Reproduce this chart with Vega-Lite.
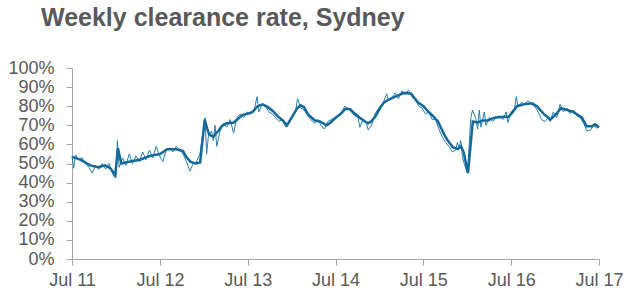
{
  "$schema": "https://vega.github.io/schema/vega-lite/v6.json",
  "autosize": "none",
  "width": 527,
  "height": 191,
  "padding": {"left": 72, "top": 68, "right": 33, "bottom": 42},
  "background": "white",
  "title": {
    "text": "Weekly clearance rate, Sydney",
    "anchor": "start",
    "frame": "group",
    "dx": -31,
    "offset": 8,
    "baseline": "alphabetic",
    "font": "Liberation Sans",
    "fontSize": 25,
    "fontWeight": "bold",
    "color": "#595959"
  },
  "config": {
    "view": {"stroke": null},
    "axis": {
      "labelFont": "Liberation Sans",
      "labelFontSize": 18,
      "labelColor": "#595959",
      "domainColor": "#A6A6A6",
      "tickColor": "#A6A6A6",
      "grid": false,
      "title": null,
      "tickSize": 6
    }
  },
  "datasets": {
    "weekly": [
      {"date": "2011-07-01", "v": 54}, {"date": "2011-07-08", "v": 47.5}, {"date": "2011-07-15", "v": 54.5}, {"date": "2011-07-29", "v": 52},
      {"date": "2011-08-12", "v": 53}, {"date": "2011-08-26", "v": 50}, {"date": "2011-09-09", "v": 48}, {"date": "2011-09-23", "v": 45},
      {"date": "2011-10-07", "v": 49}, {"date": "2011-10-21", "v": 47}, {"date": "2011-11-04", "v": 50}, {"date": "2011-11-18", "v": 47},
      {"date": "2011-12-02", "v": 50}, {"date": "2011-12-16", "v": 45}, {"date": "2011-12-23", "v": 43}, {"date": "2011-12-30", "v": 42.5},
      {"date": "2012-01-06", "v": 62}, {"date": "2012-01-13", "v": 48}, {"date": "2012-01-27", "v": 53}, {"date": "2012-02-10", "v": 49},
      {"date": "2012-02-24", "v": 55}, {"date": "2012-03-09", "v": 50}, {"date": "2012-03-23", "v": 54}, {"date": "2012-04-06", "v": 51},
      {"date": "2012-04-20", "v": 56}, {"date": "2012-05-04", "v": 52}, {"date": "2012-05-18", "v": 57}, {"date": "2012-06-01", "v": 53},
      {"date": "2012-06-15", "v": 59}, {"date": "2012-06-29", "v": 54}, {"date": "2012-07-13", "v": 51}, {"date": "2012-07-27", "v": 57},
      {"date": "2012-08-10", "v": 58}, {"date": "2012-08-24", "v": 56}, {"date": "2012-09-07", "v": 59}, {"date": "2012-09-21", "v": 57},
      {"date": "2012-10-05", "v": 55}, {"date": "2012-10-19", "v": 51}, {"date": "2012-11-02", "v": 46}, {"date": "2012-11-16", "v": 50},
      {"date": "2012-11-30", "v": 51}, {"date": "2012-12-14", "v": 55}, {"date": "2013-01-04", "v": 74}, {"date": "2013-01-11", "v": 55},
      {"date": "2013-01-18", "v": 64}, {"date": "2013-02-01", "v": 67}, {"date": "2013-02-08", "v": 62}, {"date": "2013-02-15", "v": 70},
      {"date": "2013-02-22", "v": 59}, {"date": "2013-03-08", "v": 67}, {"date": "2013-03-22", "v": 71}, {"date": "2013-04-05", "v": 69},
      {"date": "2013-04-19", "v": 73}, {"date": "2013-05-03", "v": 66}, {"date": "2013-05-17", "v": 74}, {"date": "2013-05-31", "v": 76},
      {"date": "2013-06-14", "v": 74}, {"date": "2013-06-28", "v": 77}, {"date": "2013-07-12", "v": 76}, {"date": "2013-07-26", "v": 77},
      {"date": "2013-08-09", "v": 85}, {"date": "2013-08-16", "v": 77}, {"date": "2013-08-30", "v": 81}, {"date": "2013-09-13", "v": 80},
      {"date": "2013-09-27", "v": 77}, {"date": "2013-10-11", "v": 76}, {"date": "2013-10-25", "v": 74}, {"date": "2013-11-08", "v": 72},
      {"date": "2013-11-22", "v": 73}, {"date": "2013-12-06", "v": 69}, {"date": "2013-12-13", "v": 70}, {"date": "2014-01-03", "v": 74},
      {"date": "2014-01-17", "v": 78}, {"date": "2014-01-24", "v": 84}, {"date": "2014-02-07", "v": 79}, {"date": "2014-02-21", "v": 78},
      {"date": "2014-03-07", "v": 75}, {"date": "2014-03-21", "v": 73}, {"date": "2014-04-04", "v": 71}, {"date": "2014-04-18", "v": 73},
      {"date": "2014-05-02", "v": 70}, {"date": "2014-05-16", "v": 68}, {"date": "2014-05-30", "v": 72}, {"date": "2014-06-13", "v": 73},
      {"date": "2014-06-27", "v": 74}, {"date": "2014-07-11", "v": 75}, {"date": "2014-07-25", "v": 76}, {"date": "2014-08-08", "v": 80},
      {"date": "2014-08-22", "v": 79}, {"date": "2014-09-05", "v": 77}, {"date": "2014-09-19", "v": 75}, {"date": "2014-10-03", "v": 74},
      {"date": "2014-10-10", "v": 69}, {"date": "2014-10-24", "v": 73}, {"date": "2014-11-07", "v": 71}, {"date": "2014-11-14", "v": 67.5},
      {"date": "2014-11-28", "v": 70}, {"date": "2014-12-12", "v": 76}, {"date": "2015-01-02", "v": 80}, {"date": "2015-01-16", "v": 82},
      {"date": "2015-01-30", "v": 86.5}, {"date": "2015-02-06", "v": 83}, {"date": "2015-02-20", "v": 84}, {"date": "2015-03-06", "v": 87},
      {"date": "2015-03-20", "v": 84}, {"date": "2015-04-03", "v": 88}, {"date": "2015-04-17", "v": 86}, {"date": "2015-05-01", "v": 88.5},
      {"date": "2015-05-15", "v": 85}, {"date": "2015-05-29", "v": 84}, {"date": "2015-06-12", "v": 80}, {"date": "2015-06-26", "v": 79},
      {"date": "2015-07-10", "v": 76}, {"date": "2015-07-24", "v": 77}, {"date": "2015-08-07", "v": 73}, {"date": "2015-08-21", "v": 73},
      {"date": "2015-09-04", "v": 68}, {"date": "2015-09-18", "v": 64}, {"date": "2015-10-02", "v": 61}, {"date": "2015-10-16", "v": 59},
      {"date": "2015-10-30", "v": 56}, {"date": "2015-11-13", "v": 57}, {"date": "2015-11-20", "v": 61}, {"date": "2015-11-27", "v": 58},
      {"date": "2015-12-04", "v": 62}, {"date": "2015-12-11", "v": 53.5}, {"date": "2015-12-18", "v": 50}, {"date": "2016-01-01", "v": 45},
      {"date": "2016-01-15", "v": 74}, {"date": "2016-01-22", "v": 78}, {"date": "2016-02-05", "v": 73.5}, {"date": "2016-02-12", "v": 68},
      {"date": "2016-02-19", "v": 78}, {"date": "2016-02-26", "v": 69}, {"date": "2016-03-11", "v": 77}, {"date": "2016-03-18", "v": 70},
      {"date": "2016-04-01", "v": 74}, {"date": "2016-04-15", "v": 72}, {"date": "2016-04-29", "v": 74}, {"date": "2016-05-13", "v": 75},
      {"date": "2016-05-27", "v": 73}, {"date": "2016-06-10", "v": 77}, {"date": "2016-06-17", "v": 71.5}, {"date": "2016-07-01", "v": 77},
      {"date": "2016-07-15", "v": 79}, {"date": "2016-07-22", "v": 85}, {"date": "2016-07-29", "v": 80}, {"date": "2016-08-12", "v": 82},
      {"date": "2016-08-26", "v": 81}, {"date": "2016-09-09", "v": 83}, {"date": "2016-09-23", "v": 81}, {"date": "2016-10-07", "v": 80},
      {"date": "2016-10-21", "v": 77}, {"date": "2016-11-04", "v": 73}, {"date": "2016-11-18", "v": 72}, {"date": "2016-12-02", "v": 74},
      {"date": "2016-12-09", "v": 72}, {"date": "2016-12-23", "v": 77}, {"date": "2017-01-06", "v": 74}, {"date": "2017-01-20", "v": 81},
      {"date": "2017-02-03", "v": 77}, {"date": "2017-02-17", "v": 79}, {"date": "2017-03-03", "v": 76}, {"date": "2017-03-17", "v": 78},
      {"date": "2017-03-31", "v": 75}, {"date": "2017-04-14", "v": 74}, {"date": "2017-04-28", "v": 71}, {"date": "2017-05-12", "v": 67},
      {"date": "2017-05-26", "v": 67.5}, {"date": "2017-06-09", "v": 70}, {"date": "2017-06-23", "v": 68.5}, {"date": "2017-06-30", "v": 69}
    ],
    "smoothed": [
      {"date": "2011-07-01", "v": 53.5}, {"date": "2011-08-04", "v": 52}, {"date": "2011-09-15", "v": 49}, {"date": "2011-10-18", "v": 48},
      {"date": "2011-11-16", "v": 49}, {"date": "2011-12-07", "v": 47.5}, {"date": "2011-12-28", "v": 44}, {"date": "2012-01-08", "v": 58},
      {"date": "2012-01-22", "v": 50}, {"date": "2012-02-28", "v": 51}, {"date": "2012-04-09", "v": 52}, {"date": "2012-05-21", "v": 54},
      {"date": "2012-07-01", "v": 55}, {"date": "2012-07-31", "v": 57.5}, {"date": "2012-09-07", "v": 57.5}, {"date": "2012-10-05", "v": 56.5},
      {"date": "2012-10-18", "v": 53.5}, {"date": "2012-11-04", "v": 51}, {"date": "2012-11-25", "v": 50}, {"date": "2012-12-15", "v": 50.5},
      {"date": "2013-01-03", "v": 73}, {"date": "2013-01-14", "v": 68}, {"date": "2013-01-22", "v": 65}, {"date": "2013-02-08", "v": 64},
      {"date": "2013-02-28", "v": 67}, {"date": "2013-03-15", "v": 69.5}, {"date": "2013-04-01", "v": 71}, {"date": "2013-05-04", "v": 71.5},
      {"date": "2013-06-10", "v": 75.5}, {"date": "2013-07-01", "v": 76}, {"date": "2013-07-21", "v": 77}, {"date": "2013-08-11", "v": 80},
      {"date": "2013-09-01", "v": 81}, {"date": "2013-09-23", "v": 79.5}, {"date": "2013-10-13", "v": 77.5}, {"date": "2013-11-04", "v": 74.5},
      {"date": "2013-11-24", "v": 72.5}, {"date": "2013-12-11", "v": 70}, {"date": "2014-01-02", "v": 74.5}, {"date": "2014-01-23", "v": 79},
      {"date": "2014-02-06", "v": 80.5}, {"date": "2014-02-20", "v": 79.5}, {"date": "2014-03-10", "v": 75.5}, {"date": "2014-04-07", "v": 72.5},
      {"date": "2014-04-27", "v": 72}, {"date": "2014-05-25", "v": 70}, {"date": "2014-06-11", "v": 71.5}, {"date": "2014-07-02", "v": 74},
      {"date": "2014-07-23", "v": 76}, {"date": "2014-08-10", "v": 78.5}, {"date": "2014-08-30", "v": 78.5}, {"date": "2014-09-20", "v": 76},
      {"date": "2014-10-10", "v": 74}, {"date": "2014-11-01", "v": 72}, {"date": "2014-11-13", "v": 71}, {"date": "2014-11-26", "v": 72},
      {"date": "2014-12-13", "v": 74.5}, {"date": "2015-01-02", "v": 79}, {"date": "2015-01-19", "v": 82}, {"date": "2015-02-08", "v": 83.5},
      {"date": "2015-02-25", "v": 84.5}, {"date": "2015-03-16", "v": 85.5}, {"date": "2015-04-13", "v": 87}, {"date": "2015-05-11", "v": 86.5},
      {"date": "2015-06-08", "v": 82}, {"date": "2015-07-02", "v": 80}, {"date": "2015-07-19", "v": 77.5}, {"date": "2015-08-09", "v": 75},
      {"date": "2015-08-31", "v": 72}, {"date": "2015-09-27", "v": 65}, {"date": "2015-10-11", "v": 62}, {"date": "2015-11-01", "v": 58.5},
      {"date": "2015-11-22", "v": 57.5}, {"date": "2015-12-05", "v": 59}, {"date": "2015-12-16", "v": 56}, {"date": "2016-01-03", "v": 45},
      {"date": "2016-01-23", "v": 72}, {"date": "2016-02-13", "v": 71.5}, {"date": "2016-03-04", "v": 72.5}, {"date": "2016-03-25", "v": 72.5},
      {"date": "2016-04-22", "v": 74}, {"date": "2016-05-30", "v": 74.5}, {"date": "2016-06-20", "v": 74.5}, {"date": "2016-07-04", "v": 76.5},
      {"date": "2016-07-25", "v": 80}, {"date": "2016-08-22", "v": 81}, {"date": "2016-09-25", "v": 81.5}, {"date": "2016-10-16", "v": 80},
      {"date": "2016-11-13", "v": 76}, {"date": "2016-12-11", "v": 73}, {"date": "2017-01-08", "v": 76.5}, {"date": "2017-01-24", "v": 79},
      {"date": "2017-02-19", "v": 78}, {"date": "2017-03-16", "v": 77}, {"date": "2017-04-21", "v": 74}, {"date": "2017-05-11", "v": 69.5},
      {"date": "2017-06-01", "v": 69.5}, {"date": "2017-06-15", "v": 70.5}, {"date": "2017-07-01", "v": 69}
    ]
  },
  "encoding": {
    "x": {
      "field": "date",
      "type": "temporal",
      "scale": {"domain": ["2011-07-01T00:00:00", "2017-07-01T00:00:00"]},
      "axis": {
        "values": ["2011-07-01T00:00:00", "2012-07-01T00:00:00", "2013-07-01T00:00:00", "2014-07-01T00:00:00", "2015-07-01T00:00:00", "2016-07-01T00:00:00", "2017-07-01T00:00:00"],
        "format": "%b %y",
        "labelPadding": 6,
        "labelFlush": false,
        "labelOverlap": false
      }
    },
    "y": {
      "field": "v",
      "type": "quantitative",
      "scale": {"domain": [0, 100]},
      "axis": {
        "values": [0, 10, 20, 30, 40, 50, 60, 70, 80, 90, 100],
        "labelExpr": "datum.value + '%'",
        "labelPadding": 12,
        "labelOverlap": false
      }
    }
  },
  "layer": [
    {
      "data": {"name": "weekly"},
      "mark": {"type": "line", "color": "#2A7FAE", "strokeWidth": 1}
    },
    {
      "data": {"name": "smoothed"},
      "mark": {"type": "line", "color": "#14699A", "strokeWidth": 2.5}
    }
  ]
}
